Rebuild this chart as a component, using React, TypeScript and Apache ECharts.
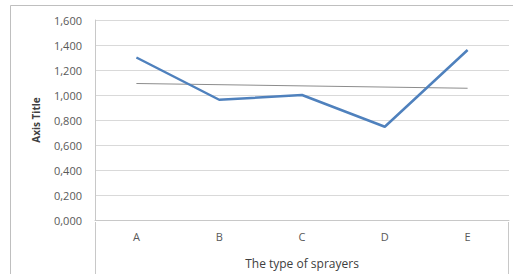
import React, { useEffect, useRef } from "react";
import * as echarts from "echarts";

const categories = ["A", "B", "C", "D", "E"];
const sprayerValues = [1.3, 0.962, 1.0, 0.746, 1.36];
const trendValues: (number | null)[] = [1.092, null, null, null, 1.054];
const yMin = 0;
const yMax = 1.6;
const yInterval = 0.2;

const FONT = "'Open Sans', 'Liberation Sans', sans-serif";

export default function App() {
  const ref = useRef<HTMLDivElement>(null);
  useEffect(() => {
    document.body.style.margin = "0";
    const chart = echarts.init(ref.current!, null, { renderer: "svg" });
    chart.setOption({
      animation: false,
      backgroundColor: "#ffffff",
      grid: { left: 95, right: 4, top: 20, bottom: 52 },
      xAxis: {
        type: "category",
        data: categories,
        boundaryGap: true,
        axisLine: { show: true, lineStyle: { color: "#c8c8c8", width: 1 } },
        axisTick: { show: false },
        axisLabel: { color: "#595959", fontFamily: FONT, fontSize: 11, margin: 11 },
        name: "The type of sprayers",
        nameLocation: "middle",
        nameGap: 37,
        nameTextStyle: { color: "#404040", fontFamily: FONT, fontSize: 12 },
      },
      yAxis: {
        type: "value",
        min: yMin,
        max: yMax,
        interval: yInterval,
        axisLine: { show: true, lineStyle: { color: "#c8c8c8", width: 1 } },
        axisTick: { show: false },
        splitLine: { show: true, lineStyle: { color: "#d9d9d9", width: 1 } },
        axisLabel: {
          color: "#595959",
          fontFamily: FONT,
          fontSize: 11,
          margin: 13,
          formatter: (v: number) => v.toFixed(3).replace(".", ","),
        },
        name: "Axis Title",
        nameLocation: "middle",
        nameGap: 54,
        nameRotate: 90,
        nameTextStyle: { color: "#404040", fontFamily: FONT, fontSize: 10, fontWeight: "bold" },
      },
      series: [
        {
          type: "line",
          data: sprayerValues,
          symbol: "none",
          lineStyle: { color: "#4f81bd", width: 2.5 },
          z: 3,
        },
        {
          type: "line",
          data: trendValues,
          connectNulls: true,
          symbol: "none",
          lineStyle: { color: "#8c8c8c", width: 1 },
          z: 2,
        },
      ],
      graphic: [
        { type: "line", shape: { x1: 10.5, y1: 5.5, x2: 513, y2: 5.5 }, style: { stroke: "#bfbfbf", lineWidth: 1 } },
        { type: "line", shape: { x1: 10.5, y1: 5.5, x2: 10.5, y2: 274 }, style: { stroke: "#bfbfbf", lineWidth: 1 } },
        { type: "line", shape: { x1: 95.5, y1: 222, x2: 95.5, y2: 274 }, style: { stroke: "#c8c8c8", lineWidth: 1 } },
        { type: "line", shape: { x1: 508.5, y1: 222, x2: 508.5, y2: 274 }, style: { stroke: "#c8c8c8", lineWidth: 1 } },
      ],
    });
    return () => chart.dispose();
  }, []);
  return <div ref={ref} style={{ width: 513, height: 274 }} />;
}
